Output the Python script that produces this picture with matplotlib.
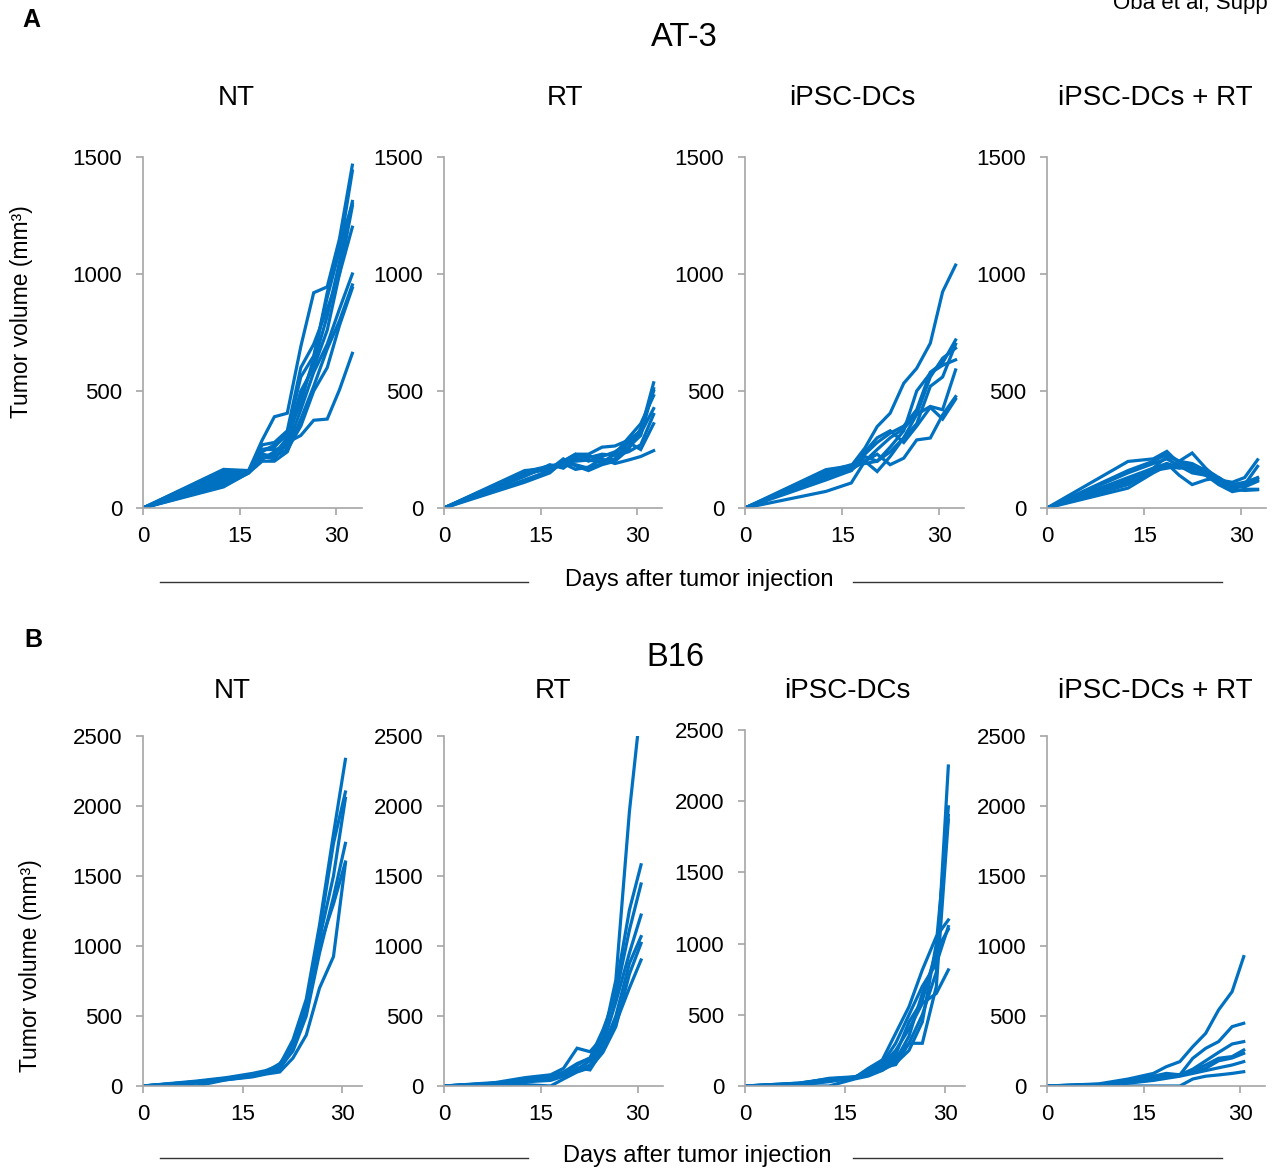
import matplotlib
matplotlib.use("Agg")
import matplotlib.pyplot as plt
from matplotlib.lines import Line2D

plt.rcParams['font.family'] = ['Liberation Sans', 'DejaVu Sans']

W, H = 1272, 1169
BLUE = '#0070C0'
SPINE = '#A6A6A6'

# ---------------- data ----------------
groups = ["NT", "RT", "iPSC-DCs", "iPSC-DCs + RT"]
xticks = [0, 15, 30]

# Panel A: AT-3
days_A = [0, 12.5, 16.4, 18.5, 20.4, 22.4, 24.5, 26.5, 28.6, 30.5, 32.5]
yticks_A = [0, 500, 1000, 1500]

at3_NT = [
    [0, 165, 160, 290, 390, 405, 690, 920, 945, 1150, 1465],
    [0, 150, 155, 250, 260, 320, 560, 650, 900, 1100, 1440],
    [0, 130, 158, 220, 210, 280, 480, 620, 820, 1050, 1310],
    [0, 110, 160, 210, 230, 300, 500, 600, 760, 1000, 1290],
    [0, 100, 150, 250, 250, 260, 420, 580, 700, 850, 1000],
    [0, 90, 150, 200, 200, 240, 380, 520, 680, 800, 953],
    [0, 120, 155, 230, 220, 250, 350, 500, 600, 780, 940],
    [0, 95, 150, 210, 240, 280, 310, 375, 380, 505, 661],
    [0, 140, 160, 270, 280, 330, 600, 700, 850, 1000, 1200],
    [0, 160, 155, 240, 270, 310, 450, 640, 920, 1120, 1300],
]
at3_RT = [
    [0, 160, 170, 200, 230, 230, 260, 265, 290, 330, 535],
    [0, 155, 180, 190, 185, 170, 190, 205, 260, 310, 510],
    [0, 150, 165, 210, 180, 160, 185, 200, 250, 340, 500],
    [0, 140, 175, 180, 220, 225, 200, 210, 280, 320, 425],
    [0, 110, 150, 200, 230, 200, 220, 240, 280, 250, 360],
    [0, 120, 160, 190, 165, 175, 210, 190, 205, 220, 245],
    [0, 145, 170, 195, 200, 205, 195, 230, 300, 360, 480],
    [0, 135, 185, 170, 210, 215, 230, 225, 240, 270, 400],
]
at3_DC = [
    [0, 164, 180, 256, 348, 405, 533, 597, 704, 924, 1038],
    [0, 150, 175, 230, 280, 320, 350, 420, 580, 620, 718],
    [0, 145, 170, 200, 250, 300, 340, 400, 560, 640, 683],
    [0, 140, 160, 220, 200, 260, 330, 500, 576, 610, 633],
    [0, 130, 165, 200, 156, 220, 300, 400, 434, 420, 590],
    [0, 71, 107, 200, 230, 185, 213, 291, 299, 398, 476],
    [0, 120, 160, 240, 300, 330, 280, 350, 430, 380, 465],
    [0, 155, 185, 190, 200, 240, 300, 360, 520, 560, 700],
]
at3_DCRT = [
    [0, 199, 210, 242, 190, 180, 160, 120, 110, 130, 206],
    [0, 160, 200, 230, 200, 235, 170, 120, 80, 100, 178],
    [0, 150, 190, 210, 180, 150, 140, 110, 100, 110, 128],
    [0, 120, 170, 190, 140, 100, 120, 130, 90, 100, 120],
    [0, 100, 160, 170, 180, 160, 140, 100, 70, 80, 80],
    [0, 85, 150, 180, 170, 175, 150, 110, 80, 75, 78],
    [0, 130, 170, 220, 200, 190, 160, 115, 100, 90, 114],
    [0, 110, 155, 190, 175, 170, 165, 130, 95, 105, 130],
]

# Panel B: B16
days_B = [0, 8, 12.6, 16.5, 18.5, 20.6, 22.6, 24.6, 26.6, 28.7, 30.5]
yticks_B = [0, 500, 1000, 1500, 2000, 2500]

b16_NT = [
    [0, 35, 60, 90, 110, 150, 330, 620, 1150, 1800, 2333],
    [0, 30, 55, 80, 100, 140, 300, 580, 1100, 1733, 2100],
    [0, 0, 45, 70, 90, 120, 270, 540, 1050, 1500, 2055],
    [0, 25, 50, 75, 95, 130, 250, 500, 950, 1350, 1733],
    [0, 20, 45, 65, 85, 100, 200, 364, 700, 924, 1590],
    [0, 30, 55, 80, 100, 160, 280, 520, 1000, 1300, 1600],
]
b16_RT = [
    [0, 20, 50, 70, 100, 160, 200, 330, 757, 1960, 2730],
    [0, 25, 60, 80, 126, 270, 245, 350, 700, 1257, 1580],
    [0, 20, 50, 60, 90, 150, 200, 400, 650, 1114, 1443],
    [0, 15, 40, 50, 80, 120, 180, 300, 600, 950, 1221],
    [0, 10, 30, 40, 70, 110, 150, 270, 500, 876, 1067],
    [0, 5, 10, 0, 50, 100, 130, 240, 424, 800, 1019],
    [0, 15, 35, 60, 90, 130, 115, 260, 450, 700, 900],
]
b16_DC = [
    [0, 20, 50, 60, 124, 183, 370, 557, 815, 1050, 1166],
    [0, 15, 45, 60, 110, 160, 300, 500, 700, 860, 1119],
    [0, 10, 40, 65, 100, 150, 250, 400, 580, 650, 815],
    [0, 5, 35, 55, 80, 120, 200, 300, 500, 800, 2247],
    [0, 0, 0, 50, 70, 110, 180, 350, 650, 900, 1960],
    [0, 10, 30, 60, 90, 130, 150, 300, 300, 700, 1868],
    [0, 15, 54, 65, 85, 112, 160, 250, 450, 1000, 1900],
    [0, 20, 45, 60, 95, 140, 220, 450, 600, 950, 1100],
]
b16_DCRT = [
    [0, 15, 50, 90, 138, 174, 281, 376, 543, 674, 924],
    [0, 12, 40, 70, 90, 80, 198, 269, 317, 424, 448],
    [0, 10, 35, 60, 75, 80, 120, 180, 240, 300, 317],
    [0, 8, 30, 50, 65, 80, 110, 150, 198, 210, 257],
    [0, 5, 25, 45, 60, 80, 100, 126, 180, 200, 233],
    [0, 5, 20, 40, 55, 70, 90, 110, 130, 150, 174],
    [0, 0, 0, 0, 0, 0, 50, 70, 79, 90, 102],
]

# ---------------- figure ----------------
fig = plt.figure(figsize=(W / 100, H / 100), dpi=100)


def px_axes(left, right, top, bottom):
    return fig.add_axes([left / W, 1 - bottom / H, (right - left) / W, (bottom - top) / H])


def style(ax, xmax, ymax, yticks):
    ax.set_xlim(0, xmax)
    ax.set_ylim(0, ymax)
    ax.set_xticks(xticks)
    ax.set_yticks(yticks)
    for s in ['top', 'right']:
        ax.spines[s].set_visible(False)
    for s in ['left', 'bottom']:
        ax.spines[s].set_color(SPINE)
        ax.spines[s].set_linewidth(1.2)
    ax.tick_params(axis='both', direction='out', length=5, width=1.2, color=SPINE,
                   labelsize=16, labelcolor='black')
    ax.tick_params(axis='y', pad=10)
    ax.tick_params(axis='x', pad=8)
    ax.patch.set_alpha(0)


def draw(ax, days, series):
    for s in series:
        ax.plot(days, s, color=BLUE, lw=2.3, solid_joinstyle='miter', clip_on=True)


rowA = [(143, 362, 34.0), (444, 662, 33.8), (745, 964, 33.8), (1047, 1266, 33.8)]
dataA = [at3_NT, at3_RT, at3_DC, at3_DCRT]
for (l, r, xm), d in zip(rowA, dataA):
    ax = px_axes(l, r, 157, 508)
    draw(ax, days_A, d)
    style(ax, xm, 1500, yticks_A)

rowB = [(143, 362, 736, 33.0), (444, 663, 736, 33.9), (745, 965, 730, 33.0), (1047, 1265, 736, 33.8)]
dataB = [b16_NT, b16_RT, b16_DC, b16_DCRT]
for (l, r, t, xm), d in zip(rowB, dataB):
    ax = px_axes(l, r, t, 1086)
    draw(ax, days_B, d)
    style(ax, xm, 2500, yticks_B)


def ftext(x, y, s, **kw):
    fig.text(x / W, 1 - y / H, s, **kw)


# titles
ftext(684, 38, "AT-3", fontsize=23.5, ha='center', va='center')
ftext(675, 658, "B16", fontsize=23.5, ha='center', va='center')
for x, g in zip([236, 565, 852, 1155], groups):
    ftext(x, 98, g, fontsize=20, ha='center', va='center')
for x, g in zip([232, 553, 847, 1155], groups):
    ftext(x, 691, g, fontsize=20, ha='center', va='center')

# panel letters
ftext(31, 20, "A", fontsize=18, fontweight='bold', ha='center', va='center')
ftext(33, 640, "B", fontsize=18, fontweight='bold', ha='center', va='center')

# header (cropped at the page edge, as in the original)
ftext(1113, 9, "Oba et al, Supp", fontsize=16, ha='left', va='baseline')

# y labels
ftext(22, 312, "Tumor volume (mm³)", fontsize=16.5, rotation=90, ha='center', va='center')
ftext(30, 966, "Tumor volume (mm³)", fontsize=16.5, rotation=90, ha='center', va='center')

# x labels with side rules
for yl, xc in [(580, 699), (1156, 697)]:
    ftext(xc, yl, "Days after tumor injection", fontsize=17, ha='center', va='center')
    for x0, x1 in [(160, 528), (853, 1222)]:
        fig.add_artist(Line2D([x0 / W, x1 / W], [1 - (yl + 2) / H, 1 - (yl + 2) / H],
                              color='#333333', lw=1.0, transform=fig.transFigure))

fig.savefig("out.png", dpi=100)
